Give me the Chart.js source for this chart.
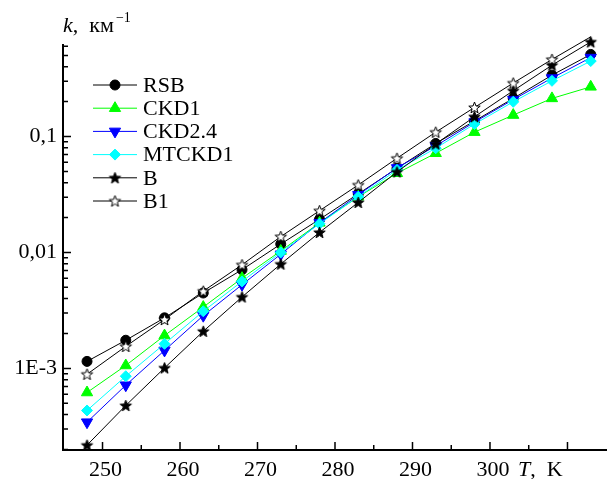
<!DOCTYPE html>
<html>
<head>
<meta charset="utf-8">
<script src="https://cdn.jsdelivr.net/npm/chart.js@4.4.0/dist/chart.umd.min.js"></script>
<style>
  html, body { margin: 0; padding: 0; background: #fff; }
  #wrap { position: relative; width: 607px; height: 479px; }
  .lbl { position: absolute; font: 22px "Liberation Serif", "DejaVu Serif", serif; line-height: 22px; white-space: nowrap; color: #000; }
  .sup { font-size: 14px; position: relative; top: -10px; margin-left: 2px; }
</style>
</head>
<body>
<div id="wrap">
  <canvas id="graphCanvas" width="607" height="479"></canvas>
  <div class="lbl" style="left:63px; top:14px;"><i>k</i>,&nbsp; км<span class="sup">&minus;1</span></div>
  <div class="lbl" style="left:518px; top:458px;"><i>T</i>,&nbsp; K</div>
</div>
<script>
// температура, K
const temps = [248, 253, 258, 263, 268, 273, 278, 283, 288, 293, 298, 303, 308, 313];

// коэффициент поглощения k, км^-1
const rsb    = [1.15e-3, 1.75e-3, 2.73e-3, 4.47e-3, 7.1e-3, 0.0118, 0.0193, 0.032, 0.0532, 0.0871, 0.136, 0.213, 0.338, 0.51];
const ckd1   = [6.2e-4, 1.06e-3, 1.92e-3, 3.38e-3, 6.0e-3, 0.0103, 0.018, 0.0302, 0.0482, 0.0717, 0.109, 0.153, 0.213, 0.268];
const ckd24  = [3.44e-4, 7.17e-4, 1.43e-3, 2.85e-3, 5.27e-3, 9.65e-3, 0.018, 0.0314, 0.0536, 0.0829, 0.133, 0.208, 0.319, 0.479];
const mtckd1 = [4.34e-4, 8.57e-4, 1.63e-3, 3.11e-3, 5.63e-3, 0.01, 0.0177, 0.0302, 0.0515, 0.0792, 0.128, 0.199, 0.302, 0.447];
const bData  = [2.18e-4, 4.79e-4, 1.01e-3, 2.09e-3, 4.13e-3, 7.94e-3, 0.0149, 0.027, 0.0495, 0.0862, 0.148, 0.248, 0.412, 0.654];
const b1Data = [8.91e-4, 1.55e-3, 2.64e-3, 4.64e-3, 7.83e-3, 0.0137, 0.0229, 0.0382, 0.0649, 0.109, 0.178, 0.289, 0.462, 0.723];

const seriesNames = ['RSB', 'CKD1', 'CKD2.4', 'MTCKD1', 'B', 'B1'];

// подписи осей
const xTickValues = [250, 260, 270, 280, 290, 300];
const xTickLabels = ['250', '260', '270', '280', '290', '300'];
const yTickValues = [0.001, 0.01, 0.1];
const yTickLabels = ['1E-3', '0,01', '0,1'];

const FONT = '"Liberation Serif", "DejaVu Serif", "Times New Roman", serif';

// звёздочка для маркеров B и B1
function makeStar(fill) {
  const c = document.createElement('canvas');
  c.width = 15; c.height = 15;
  const g = c.getContext('2d');
  g.beginPath();
  for (let i = 0; i < 10; i++) {
    const r = i % 2 ? 2.5 : 6;
    const a = -Math.PI / 2 + i * Math.PI / 5;
    g.lineTo(7.5 + r * Math.cos(a), 8 + r * Math.sin(a));
  }
  g.closePath();
  g.fillStyle = fill;
  g.fill();
  g.strokeStyle = '#000';
  g.lineWidth = 1;
  g.stroke();
  return c;
}

function toPoints(arr) {
  return temps.map((t, i) => ({ x: t, y: arr[i] }));
}

const styles = [
  { data: rsb,    color: '#000000', fill: '#000000', style: 'circle',   radius: 5,   rot: 0 },
  { data: ckd1,   color: '#00ff00', fill: '#00ff00', style: 'triangle', radius: 6.5, rot: 0 },
  { data: ckd24,  color: '#0000ff', fill: '#0000ff', style: 'triangle', radius: 6.5, rot: 180 },
  { data: mtckd1, color: '#00ffff', fill: '#00ffff', style: 'rectRot',  radius: 5.5, rot: 0 },
  { data: bData,  color: '#000000', fill: '#000000', style: makeStar('#000'), radius: 6, rot: 0 },
  { data: b1Data, color: '#000000', fill: '#ffffff', style: makeStar('#fff'), radius: 6, rot: 0 },
];

const datasets = styles.map((s, i) => ({
  label: seriesNames[i],
  data: toPoints(s.data),
  borderColor: s.color,
  backgroundColor: s.fill,
  borderWidth: 1,
  pointStyle: s.style,
  pointRotation: s.rot,
  pointRadius: s.radius,
  pointBackgroundColor: s.fill,
  pointBorderColor: s.color,
  pointBorderWidth: 1,
  tension: 0,
  clip: false,
  order: styles.length - i,
}));

// маркер для легенды
function legendMarker(g, ds, x, y) {
  const r = ds.pointRadius;
  if (typeof ds.pointStyle !== 'string') {
    g.drawImage(ds.pointStyle, x - 7.5, y - 7.5);
    return;
  }
  g.beginPath();
  if (ds.pointStyle === 'circle') {
    g.arc(x, y, r, 0, Math.PI * 2);
  } else if (ds.pointStyle === 'triangle') {
    const rot = ds.pointRotation * Math.PI / 180;
    for (let k = 0; k < 3; k++) {
      const a = rot + k * 2 * Math.PI / 3;
      g.lineTo(x + Math.sin(a) * r, y - Math.cos(a) * r);
    }
  } else {
    g.moveTo(x, y - r); g.lineTo(x + r, y); g.lineTo(x, y + r); g.lineTo(x - r, y);
  }
  g.closePath();
  g.fillStyle = ds.pointBackgroundColor;
  g.fill();
  g.strokeStyle = ds.pointBorderColor;
  g.lineWidth = 1;
  g.stroke();
}

// засечки внутрь, легенда
const axisAndLegend = {
  id: 'axisAndLegend',
  afterDraw(chart) {
    const g = chart.ctx;
    const a = chart.chartArea;
    const xs = chart.scales.x, ys = chart.scales.y;
    g.save();
    g.strokeStyle = '#000';
    g.lineWidth = 1.5;
    g.beginPath();
    xs.ticks.forEach(t => {
      const px = xs.getPixelForValue(t.value);
      const len = t.value % 10 === 0 ? 8 : 5;
      g.moveTo(px, a.bottom);
      g.lineTo(px, a.bottom - len);
    });
    ys.ticks.forEach(t => {
      const py = ys.getPixelForValue(t.value);
      const len = t.major ? 8 : 5;
      g.moveTo(a.left, py);
      g.lineTo(a.left + len, py);
    });
    g.stroke();
    g.restore();

    chart.data.datasets.forEach((ds, i) => {
      const y = 85 + i * 23.2;
      g.save();
      g.strokeStyle = ds.borderColor;
      g.lineWidth = 1;
      g.beginPath();
      g.moveTo(93, y);
      g.lineTo(137, y);
      g.stroke();
      legendMarker(g, ds, 115, y);
      g.fillStyle = '#000';
      g.font = '22px ' + FONT;
      g.textBaseline = 'middle';
      g.textAlign = 'left';
      g.fillText(ds.label, 143, y + 1);
      g.restore();
    });
  }
};

const chartCanvas = document.getElementById('graphCanvas');
new Chart(chartCanvas, {
  type: 'line',
  data: { datasets: datasets },
  options: {
    responsive: false,
    animation: false,
    devicePixelRatio: 1,
    layout: { padding: { top: 45, right: 0, left: 0, bottom: 0 }, autoPadding: false },
    plugins: { legend: { display: false }, tooltip: { enabled: false } },
    scales: {
      x: {
        type: 'linear',
        min: 244.9,
        max: 315.1,
        grid: { display: false, drawTicks: false },
        border: { display: true, color: '#000', width: 2 },
        afterBuildTicks: (scale) => {
          const ticks = [];
          for (let v = 250; v <= 310; v += 5) ticks.push({ value: v });
          scale.ticks = ticks;
        },
        afterFit: (scale) => { scale.height = 29; },
        ticks: {
          autoSkip: false,
          maxRotation: 0,
          padding: 7,
          labelOffset: 3,
          color: '#000',
          font: { family: FONT, size: 22 },
          callback: (value) => {
            const i = xTickValues.indexOf(value);
            return i >= 0 ? xTickLabels[i] : '';
          }
        }
      },
      y: {
        type: 'logarithmic',
        min: 1.98e-4,
        max: 0.615,
        grid: { display: false, drawTicks: false },
        border: { display: true, color: '#000', width: 2 },
        afterBuildTicks: (scale) => {
          const ticks = [];
          for (let e = -4; e <= 0; e++) {
            for (let m = 1; m <= 9; m++) {
              const v = m * Math.pow(10, e);
              if (v >= scale.min && v <= scale.max) ticks.push({ value: v, major: m === 1 });
            }
          }
          scale.ticks = ticks;
        },
        afterFit: (scale) => { scale.width = 63; },
        ticks: {
          autoSkip: false,
          padding: 6,
          color: '#000',
          font: { family: FONT, size: 22 },
          callback: (value) => {
            const i = yTickValues.findIndex(v => Math.abs(v - value) / v < 1e-6);
            return i >= 0 ? yTickLabels[i] : '';
          }
        }
      }
    }
  },
  plugins: [axisAndLegend]
});
</script>
</body>
</html>
